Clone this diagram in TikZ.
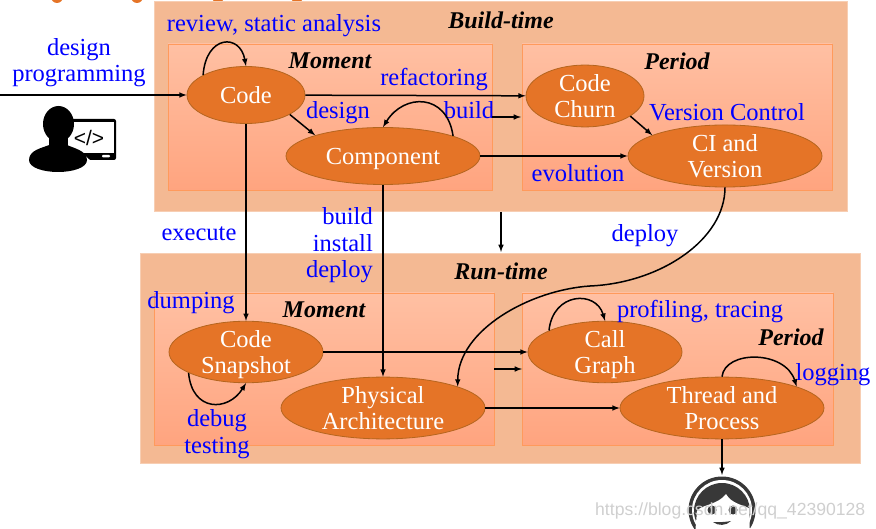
\documentclass[tikz,border=0pt]{standalone}
\usepackage{fontspec}
\setmainfont{Liberation Serif}
\setsansfont{Liberation Sans}
\usetikzlibrary{shapes.geometric}
\definecolor{outerfill}{HTML}{F4B993}
\definecolor{innerline}{HTML}{FF9A5C}
\definecolor{innertop}{HTML}{FFC0A3}
\definecolor{innerbot}{HTML}{FFA47F}
\definecolor{statefill}{HTML}{E57427}
\definecolor{stateline}{HTML}{B5651F}
\definecolor{markgray}{HTML}{CFCFCF}
\tikzset{
  outerbox/.style={fill=outerfill, draw=outerfill!70!white, line width=0.6pt},
  innerbox/.style={top color=innertop, bottom color=innerbot, draw=innerline, line width=0.8pt},
  state/.style={ellipse, fill=statefill, draw=stateline, line width=0.8pt, inner sep=0pt,
    text=white, align=center, font=\fontsize{24.5}{26.5}\selectfont},
  bluetext/.style={text=blue, inner sep=0pt, font=\fontsize{24.5}{26.5}\selectfont},
  heading/.style={inner sep=0pt, font=\fontsize{24}{26}\selectfont\bfseries\itshape},
  flow/.style={->, line width=1.5pt},
  watermark/.style={text=markgray, inner sep=0pt, anchor=west, font=\sffamily\fontsize{17.6}{20}\selectfont},
}
\begin{document}
\begin{tikzpicture}[>=latex, x=1pt, y=-1pt]
\useasboundingbox (0,0) rectangle (876,529);
\clip (0,0) rectangle (876,529);
\fill[statefill] (57,-3) circle (6);
\fill[statefill] (137,-3) circle (6);
\fill[statefill] (218,-3) circle (6);
\fill[statefill] (297,-3) circle (6);
\draw[outerbox] (154,1) rectangle (847,211);
\draw[outerbox] (140,253) rectangle (860,463);
\draw[innerbox] (168,44) rectangle (492,190);
\draw[innerbox] (522,44) rectangle (832,190);
\draw[innerbox] (154,293) rectangle (494,445);
\draw[innerbox] (522,293) rectangle (833,445);
\node[state, minimum width=118, minimum height=57] (code) at (246,95) {Code};
\node[state, minimum width=194, minimum height=57, text depth=0pt] (component) at (383,156) {Component};
\node[state, minimum width=118, minimum height=57] (churn) at (585,96) {Code\\Churn};
\node[state, minimum width=194, minimum height=57] (version) at (725,156) {CI and\\Version};
\node[state, minimum width=154, minimum height=57, text depth=0pt] (snapshot) at (246,352) {Code\\Snapshot};
\node[state, minimum width=204, minimum height=57] (physical) at (383,408) {Physical\\Architecture};
\node[state, minimum width=154, minimum height=57, text depth=0pt] (callgraph) at (605,352) {Call\\Graph};
\node[state, minimum width=204, minimum height=57] (thread) at (722,408) {Thread and\\Process};
\node[heading] (buildtime) at (501,20) {Build-time};
\node[heading] (buildmoment) at (330,61) {Moment};
\node[heading] (buildperiod) at (677,61) {Period};
\node[heading] (runtime) at (501,271) {Run-time};
\node[heading] (runmoment) at (324,310) {Moment};
\node[heading] (runperiod) at (791,337) {Period};
\node[bluetext, align=center] (lbdesign) at (79,62.5) {design\\programming};
\node[bluetext] (lbreview) at (274,26) {review, static analysis};
\node[bluetext] (lbrefactor) at (434,80) {refactoring};
\node[bluetext] (lbdesignb) at (338,113) {design};
\node[bluetext] (lbbuild) at (469,110) {build};
\node[bluetext] (lbcontrol) at (727,112) {Version Control};
\node[bluetext] (lbevolve) at (578,173) {evolution};
\node[bluetext] (lbexecute) at (199,234) {execute};
\node[bluetext, align=right, anchor=east] (lbinstall) at (373,245.5) {build\\install\\deploy};
\node[bluetext] (lbdeploy) at (645,235.5) {deploy};
\node[bluetext] (lbdumping) at (191,302.5) {dumping};
\node[bluetext] (lbprofile) at (700,311.5) {profiling, tracing};
\node[bluetext] (lblogging) at (833,374.5) {logging};
\node[bluetext, align=center] (lbdebug) at (217,434) {debug\\testing};
\coordinate (start) at (0,95);
\coordinate (buildfrom) at (492,117);
\coordinate (buildto) at (521,117);
\coordinate (gapfrom) at (501,212);
\coordinate (gapto) at (501,252);
\coordinate (runfrom) at (494,369);
\coordinate (runto) at (522,369);
\coordinate (userhead) at (722,475);
\draw[flow] (start) -- (code.west);
\draw[flow] (code) -- (churn);
\draw[flow] (code.-24) -- (component.163);
\draw[flow] (component) -- (version);
\draw[flow] (churn.-24) -- (version.164);
\draw[flow] (code) -- (snapshot);
\draw[flow] (component) -- (physical);
\draw[flow] (snapshot) -- (callgraph);
\draw[flow] (physical) -- (thread);
\draw[flow] (buildfrom) -- (buildto);
\draw[flow] (gapfrom) -- (gapto);
\draw[flow] (runfrom) -- (runto);
\draw[flow] (thread.south) -- (userhead);
\draw[flow] (code.155) .. controls (206,35) and (240,33) .. (code.north);
\draw[flow] (component.16) .. controls (447,93) and (404,93) .. (component.north);
\draw[flow] (snapshot.-160) .. controls (192,412) and (228,412) .. (snapshot.south);
\draw[flow] (callgraph.159) .. controls (553,292) and (596,290) .. (callgraph.north);
\draw[flow] (thread.north) .. controls (725,350) and (785,350) .. (thread.16);
\draw[flow] (version.south) .. controls (725,240) and (660,283) .. (590,286) .. controls (530,290) and (458,330) .. (physical.16);
% user at the screen
\fill[rounded corners=2] (65,119) rectangle (116,160);
\fill[white] (67,122) rectangle (114,153);
\fill[white, rounded corners=1] (102,155) rectangle (110,157.5);
\node[inner sep=0pt, font=\sffamily\fontsize{21}{23}\selectfont] (codetag) at (89,138) {</>};
\fill[white] (26,143) .. controls (36,135) and (60,135) .. (68,140) -- (92,162) -- (88,174) -- (26,174) -- cycle;
\fill (58.5,124) ellipse (15.5 and 18);
\fill (49,136) rectangle (68,148);
\fill (29,160) .. controls (29,150) and (42,148) .. (52,144) -- (65,144) .. controls (72,148) and (87,150) .. (87,160) .. controls (87,168) and (72,172) .. (58,172) .. controls (44,172) and (29,168) .. (29,160) -- cycle;
% support user
\fill[black!78] (722,510) circle (33.5);
\fill[white] (722,510) circle (30);
\fill[black!78] (722,511) circle (28);
\fill[white] (697,511) .. controls (700,505) and (718,505) .. (726,494) .. controls (731,503) and (742,505) .. (749,508) -- (750,535) -- (695,535) -- cycle;
\fill[black!78] (712,510) circle (4.5);
\fill[black!78] (733,510) circle (4.5);
\fill[black!78] (713,522) .. controls (718,526) and (726,526) .. (731,521) .. controls (726,522) and (718,522.5) .. (713,522) -- cycle;
\node[watermark] (markone) at (595,511) {https://blog.csdn.net/qq\_42390128};
\end{tikzpicture}
\end{document}
